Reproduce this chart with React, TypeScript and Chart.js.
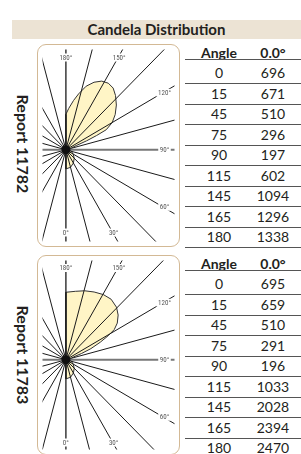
import React, { useEffect, useRef } from "react";
import { Chart, registerables } from "chart.js";

Chart.register(...registerables);

// ---------- data ----------
const TITLE = "Candela Distribution";
const REPORT_NAMES = ["Report 11782", "Report 11783"];
const TABLE_HEADER = ["Angle", "0.0°"];
const TABLE_ANGLES = [0, 15, 45, 75, 90, 115, 145, 165, 180];
const VALUES_11782 = [696, 671, 510, 296, 197, 602, 1094, 1296, 1338];
const VALUES_11783 = [695, 659, 510, 291, 196, 1033, 2028, 2394, 2470];

// polar grid
const SPOKE_ANGLES = [0, 15, 30, 45, 60, 75, 90, 105, 120, 135, 150, 165];
const LABEL_ANGLES = [180, 150, 120, 90, 60, 30, 0];

// candela curves (angle from nadir, candela)
const CURVE_ANGLES_11782 = [0, 15, 30, 45, 60, 75, 90, 100, 108, 112, 113, 114.5, 116, 120, 125, 131, 137, 142, 147, 152, 157, 162, 167, 171, 176, 180];
const CURVE_CD_11782 = [700, 665, 560, 440, 315, 210, 140, 140, 210, 420, 840, 1260, 1680, 2000, 2250, 2500, 2720, 2870, 2910, 2850, 2690, 2450, 2100, 1830, 1520, 1300];
const CURVE_ANGLES_11783 = [0, 15, 30, 45, 60, 75, 90, 100, 106, 110, 111.5, 113.6, 116.6, 119.1, 121.5, 125, 130, 135.5, 142.7, 149.7, 157, 164.5, 172, 180];
const CURVE_CD_11783 = [700, 665, 560, 440, 315, 210, 140, 140, 210, 300, 630, 1020, 1435, 1800, 2120, 2345, 2550, 2700, 2790, 2770, 2700, 2625, 2535, 2475];

// ---------- layout ----------
const CD_PER_PX = 35;
const SPOKE_LEN = 20000;

const PANELS = [
  { name: REPORT_NAMES[0], top: 44, boxH: 203, centerY: 105, values: VALUES_11782, angles: CURVE_ANGLES_11782, cd: CURVE_CD_11782, inset: { top: 8, bottom: 9, right: 10 } },
  { name: REPORT_NAMES[1], top: 255, boxH: 200, centerY: 104, values: VALUES_11783, angles: CURVE_ANGLES_11783, cd: CURVE_CD_11783, inset: { top: 7.5, bottom: 7, right: 10 } },
];

const BOX_LEFT = 37;
const BOX_W = 143;
const CENTER_X = 25;

const FONT = "Lato, 'Open Sans', sans-serif";

const toXY = (deg: number, cd: number) => {
  const r = (deg * Math.PI) / 180;
  return { x: cd * Math.sin(r), y: -cd * Math.cos(r) };
};

const angleLabelPlugin = {
  id: "angleLabels",
  afterDatasetsDraw(chart: any, _args: any, opts: any) {
    const { ctx, chartArea, scales } = chart;
    const cx = scales.x.getPixelForValue(0);
    const cy = scales.y.getPixelForValue(0);
    ctx.save();
    ctx.font = '7px "Liberation Sans Narrow", "Roboto Condensed", Roboto, sans-serif';
    ctx.textAlign = "center";
    ctx.textBaseline = "middle";
    LABEL_ANGLES.forEach((a) => {
      const rad = (a * Math.PI) / 180;
      const dx = Math.sin(rad);
      const dy = Math.cos(rad);
      const ts: number[] = [];
      if (dx > 1e-6) ts.push((chartArea.right - opts.right - cx) / dx);
      if (dy > 1e-6) ts.push((chartArea.bottom - opts.bottom - cy) / dy);
      if (dy < -1e-6) ts.push((chartArea.top + opts.top - cy) / dy);
      const t = Math.min(...ts);
      const px = cx + dx * t;
      const py = cy + dy * t;
      const text = a + "°";
      const w = ctx.measureText(text).width;
      ctx.fillStyle = "#ffffff";
      ctx.fillRect(px - w / 2 - 1.5, py - 4, w + 3, 8);
      ctx.fillStyle = "#555555";
      ctx.fillText(text, px, py + 0.5);
    });
    ctx.restore();
  },
};

function PolarChart({ panel }: { panel: any }) {
  const ref = useRef<HTMLCanvasElement | null>(null);
  const w = BOX_W - 2;
  const h = panel.boxH - 2;
  useEffect(() => {
    if (!ref.current) return;
    const curve = [{ x: 0, y: 0 }, ...panel.angles.map((a: number, i: number) => toXY(a, panel.cd[i])), { x: 0, y: 0 }];
    const spokes = SPOKE_ANGLES.map((a) => ({
      type: "scatter",
      data: [toXY(a, SPOKE_LEN), toXY(a, -SPOKE_LEN)],
      showLine: true,
      borderColor: a === 90 ? "#777777" : "#1a1a1a",
      borderWidth: a === 90 ? 2 : a === 0 ? 1.3 : 1,
      pointRadius: 0,
      fill: false,
      order: 2,
    }));
    const chart = new Chart(ref.current, {
      type: "scatter",
      data: {
        datasets: [
          {
            data: curve,
            showLine: true,
            fill: "shape",
            backgroundColor: "#fff5c6",
            borderColor: "#333333",
            borderWidth: 1,
            pointRadius: 0,
            order: 5,
          } as any,
          ...(spokes as any[]),
          {
            data: [{ x: 0, y: 0 }],
            pointRadius: 4.5,
            backgroundColor: "#111111",
            borderWidth: 0,
            order: 0,
          } as any,
        ],
      },
      options: {
        animation: false,
        responsive: false,
        devicePixelRatio: 1,
        layout: { padding: 0 },
        events: [],
        scales: {
          x: { type: "linear", display: false, min: -CENTER_X * CD_PER_PX, max: (w - CENTER_X) * CD_PER_PX },
          y: { type: "linear", display: false, min: -(h - panel.centerY) * CD_PER_PX, max: panel.centerY * CD_PER_PX },
        },
        plugins: {
          legend: { display: false },
          tooltip: { enabled: false },
          angleLabels: panel.inset,
        } as any,
      },
      plugins: [angleLabelPlugin],
    } as any);
    return () => chart.destroy();
  }, [panel]);
  return <canvas ref={ref} width={w} height={h} style={{ display: "block", width: w, height: h }} />;
}

function Panel({ panel }: { panel: any }) {
  const T = panel.top;
  const rowH = 20.5;
  const colA = 219;
  const colV = 273;
  const cell = (text: string | number, cx: number, cy: number, bold: boolean, key: string) => (
    <div
      key={key}
      style={{
        position: "absolute",
        left: cx - 30,
        width: 60,
        top: cy - 10,
        height: 20,
        lineHeight: "20px",
        textAlign: "center",
        fontSize: 14,
        fontWeight: bold ? 700 : 400,
        color: "#231f20",
        whiteSpace: "nowrap",
      }}
    >
      {text}
    </div>
  );
  const line = (y: number, key: string) => (
    <div key={key} style={{ position: "absolute", left: 185, width: 116, top: y - 0.5, height: 1, background: "#555555" }} />
  );
  return (
    <>
      <div
        style={{
          position: "absolute",
          left: 23,
          top: T + 100,
          transform: "translate(-50%, -50%) rotate(90deg)",
          whiteSpace: "nowrap",
          fontSize: 16,
          fontWeight: 700,
          color: "#231f20",
          lineHeight: "18px",
        }}
      >
        {panel.name}
      </div>
      <div
        style={{
          position: "absolute",
          left: BOX_LEFT,
          top: T,
          width: BOX_W,
          height: panel.boxH,
          boxSizing: "border-box",
          border: "1px solid #d3b995",
          borderRadius: 9,
          overflow: "hidden",
          background: "#fff",
        }}
      >
        <PolarChart panel={panel} />
      </div>
      {cell(TABLE_HEADER[0], colA, T + 8.5, true, "ha")}
      {cell(TABLE_HEADER[1], colV, T + 8.5, true, "hv")}
      {line(T + 15.5, "hl")}
      {TABLE_ANGLES.map((a, i) => cell(a, colA, T + 29 + rowH * i, false, "a" + i))}
      {panel.values.map((v: number, i: number) => cell(v, colV, T + 29 + rowH * i, false, "v" + i))}
      {TABLE_ANGLES.map((_, i) => line(T + 39.5 + rowH * i, "l" + i))}
    </>
  );
}

export default function App() {
  return (
    <div
      style={{
        position: "absolute",
        left: 0,
        top: 0,
        width: 301,
        height: 454,
        overflow: "hidden",
        background: "#ffffff",
        fontFamily: FONT,
      }}
    >
      <div
        style={{
          position: "absolute",
          left: 12,
          top: 20,
          width: 289,
          height: 19,
          background: "#ece3d4",
          textAlign: "center",
          lineHeight: "19px",
          fontSize: 15,
          fontWeight: 700,
          color: "#231f20",
        }}
      >
        {TITLE}
      </div>
      {PANELS.map((p, i) => (
        <Panel key={i} panel={p} />
      ))}
    </div>
  );
}
